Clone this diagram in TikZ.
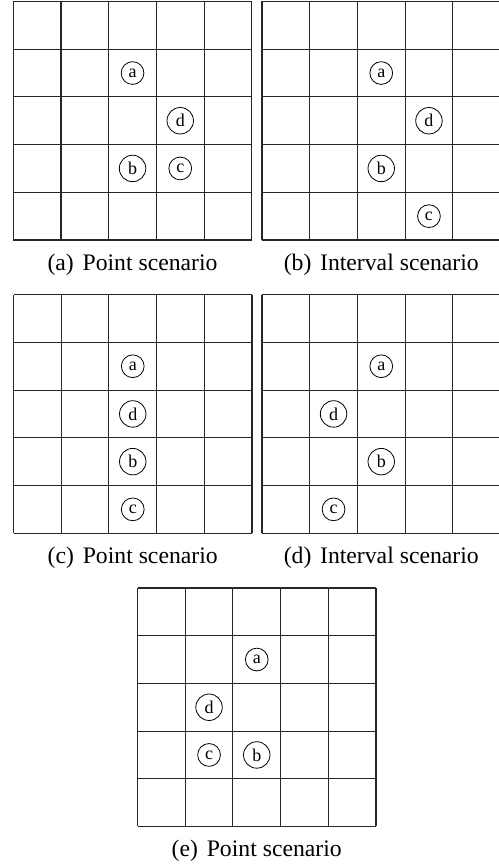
\documentclass[tikz,border=0pt]{standalone}
\usepackage{fontspec}
\setmainfont{Liberation Serif}
\usetikzlibrary{positioning}

\begin{document}
\begin{tikzpicture}[x=47.7pt,y=47.7pt,
  gridline/.style={line width=1.1pt,black!85},
  cellmark/.style={circle,draw,line width=0.8pt,inner sep=3.9pt,font=\fontsize{18}{18}\selectfont},
  subcap/.style={anchor=base,font=\fontsize{23.7}{28}\selectfont}]
\useasboundingbox (0pt,0pt) rectangle (498pt,867pt);
\coordinate (A) at (13.3pt,627pt);
\coordinate (B) at (262pt,627pt);
\coordinate (C) at (13.5pt,333.8pt);
\coordinate (D) at (262pt,333.8pt);
\coordinate (E) at (137.5pt,40.5pt);
% the five 5x5 boards
\foreach \P in {A,B,C,D,E}{
  \begin{scope}[shift={(\P)}]
  \foreach \k in {0,...,5}{
    \draw[gridline] (\k,0) -- (\k,5);
    \draw[gridline] (0,\k) -- (5,\k);
  }
  \end{scope}
}
% (a) point scenario
\begin{scope}[shift={(A)}]
\node[cellmark] (Aa) at (2.5,3.5) {a};
\node[cellmark] (Ad) at (3.5,2.5) {d};
\node[cellmark] (Ab) at (2.5,1.5) {b};
\node[cellmark] (Ac) at (3.5,1.5) {c};
\node[subcap] (capA) at (2.5,-0.63) {(a)\hspace{0.37em}Point scenario};
\end{scope}
% (b) interval scenario
\begin{scope}[shift={(B)}]
\node[cellmark] (Ba) at (2.5,3.5) {a};
\node[cellmark] (Bd) at (3.5,2.5) {d};
\node[cellmark] (Bb) at (2.5,1.5) {b};
\node[cellmark] (Bc) at (3.5,0.5) {c};
\node[subcap] (capB) at (2.5,-0.63) {(b)\hspace{0.37em}Interval scenario};
\end{scope}
% (c) point scenario
\begin{scope}[shift={(C)}]
\node[cellmark] (Ca) at (2.5,3.5) {a};
\node[cellmark] (Cd) at (2.5,2.5) {d};
\node[cellmark] (Cb) at (2.5,1.5) {b};
\node[cellmark] (Cc) at (2.5,0.5) {c};
\node[subcap] (capC) at (2.5,-0.63) {(c)\hspace{0.37em}Point scenario};
\end{scope}
% (d) interval scenario
\begin{scope}[shift={(D)}]
\node[cellmark] (Da) at (2.5,3.5) {a};
\node[cellmark] (Dd) at (1.5,2.5) {d};
\node[cellmark] (Db) at (2.5,1.5) {b};
\node[cellmark] (Dc) at (1.5,0.5) {c};
\node[subcap] (capD) at (2.5,-0.63) {(d)\hspace{0.37em}Interval scenario};
\end{scope}
% (e) point scenario
\begin{scope}[shift={(E)}]
\node[cellmark] (Ea) at (2.5,3.5) {a};
\node[cellmark] (Ed) at (1.5,2.5) {d};
\node[cellmark] (Ec) at (1.5,1.5) {c};
\node[cellmark] (Eb) at (2.5,1.5) {b};
\node[subcap] (capE) at (2.5,-0.63) {(e)\hspace{0.37em}Point scenario};
\end{scope}
\end{tikzpicture}
\end{document}
